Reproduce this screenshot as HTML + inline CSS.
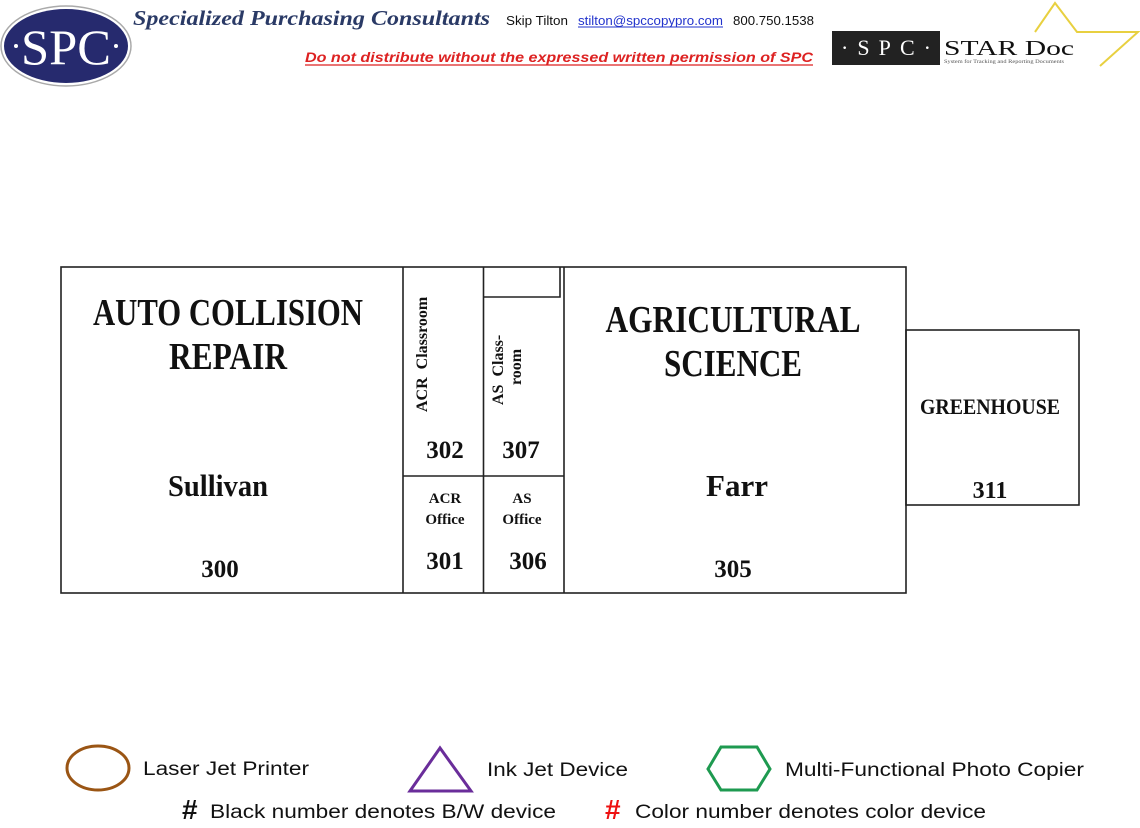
<!DOCTYPE html>
<html><head><meta charset="utf-8"><style>
html,body{margin:0;padding:0;background:#fff;}
svg{display:block;}
.s{font-family:"Liberation Serif",serif;font-weight:bold;fill:#111;}
.a{font-family:"Liberation Sans",sans-serif;}
</style></head><body>
<svg width="1140" height="828" viewBox="0 0 1140 828" xmlns="http://www.w3.org/2000/svg">
<ellipse cx="66" cy="46" rx="65" ry="40" fill="#fff" stroke="#aaa" stroke-width="1.5"/>
<ellipse cx="66" cy="46" rx="62" ry="37" fill="#262a6e"/>
<text x="66" y="64" text-anchor="middle" font-family="Liberation Serif,serif" font-size="50" fill="#fff" textLength="90" lengthAdjust="spacingAndGlyphs">SPC</text>
<circle cx="16" cy="46" r="2" fill="#fff"/><circle cx="116" cy="46" r="2" fill="#fff"/>
<text x="133" y="25" font-family="Liberation Serif,serif" font-style="italic" font-weight="bold" font-size="21" fill="#2a3a66" textLength="357" lengthAdjust="spacingAndGlyphs">Specialized Purchasing Consultants</text>
<text x="506" y="25" class="a" font-size="13" fill="#111" textLength="62" lengthAdjust="spacingAndGlyphs">Skip Tilton</text>
<text x="578" y="25" class="a" font-size="13" fill="#2233cc" textLength="145" lengthAdjust="spacingAndGlyphs">stilton@spccopypro.com</text>
<line x1="578" y1="27" x2="723" y2="27" stroke="#2233cc" stroke-width="1"/>
<text x="733" y="25" class="a" font-size="13" fill="#111" textLength="81" lengthAdjust="spacingAndGlyphs">800.750.1538</text>
<text x="305" y="62" class="a" font-size="14" font-weight="bold" font-style="italic" fill="#d22" textLength="508" lengthAdjust="spacingAndGlyphs">Do not distribute without the expressed written permission of SPC</text>
<line x1="305" y1="65" x2="813" y2="65" stroke="#d22" stroke-width="1.2"/>
<polyline points="1035,32 1055,3 1077,32 1138,32 1100,66" fill="none" stroke="#e8d040" stroke-width="2"/>
<rect x="832" y="31" width="108" height="34" fill="#222"/>
<text x="886" y="55" text-anchor="middle" font-family="Liberation Serif,serif" font-size="22" fill="#fff" textLength="90" lengthAdjust="spacing">·SPC·</text>
<text x="944" y="55" font-family="Liberation Serif,serif" font-size="21" fill="#111" textLength="130" lengthAdjust="spacingAndGlyphs">STAR Doc</text>
<text x="944" y="63" font-family="Liberation Serif,serif" font-size="5" fill="#555" textLength="120" lengthAdjust="spacingAndGlyphs">System for Tracking and Reporting Documents</text>
<g fill="none" stroke="#222" stroke-width="1.6">
<rect x="61" y="267" width="845" height="326"/>
<line x1="403" y1="267" x2="403" y2="593"/>
<line x1="483.5" y1="267" x2="483.5" y2="593"/>
<line x1="564" y1="267" x2="564" y2="593"/>
<line x1="403" y1="476" x2="564" y2="476"/>
<polyline points="484,297 560,297 560,267"/>
<rect x="906" y="330" width="173" height="175"/>
</g>
<text x="228" y="325" text-anchor="middle" class="s" font-size="38" textLength="270" lengthAdjust="spacingAndGlyphs">AUTO COLLISION</text>
<text x="228" y="369" text-anchor="middle" class="s" font-size="38" textLength="118" lengthAdjust="spacingAndGlyphs">REPAIR</text>
<text x="218" y="496" text-anchor="middle" class="s" font-size="31" textLength="100" lengthAdjust="spacingAndGlyphs">Sullivan</text>
<text x="220" y="577" text-anchor="middle" class="s" font-size="25">300</text>
<text x="733" y="332" text-anchor="middle" class="s" font-size="38" textLength="255" lengthAdjust="spacingAndGlyphs">AGRICULTURAL</text>
<text x="733" y="376" text-anchor="middle" class="s" font-size="38" textLength="138" lengthAdjust="spacingAndGlyphs">SCIENCE</text>
<text x="737" y="496" text-anchor="middle" class="s" font-size="31">Farr</text>
<text x="733" y="577" text-anchor="middle" class="s" font-size="25">305</text>
<text x="990" y="414" text-anchor="middle" class="s" font-size="22" textLength="140" lengthAdjust="spacingAndGlyphs">GREENHOUSE</text>
<text x="990" y="498" text-anchor="middle" class="s" font-size="24">311</text>
<text x="445" y="458" text-anchor="middle" class="s" font-size="25">302</text>
<text x="521" y="458" text-anchor="middle" class="s" font-size="25">307</text>
<text transform="translate(427,412) rotate(-90)" class="s" font-size="16" xml:space="preserve">ACR  Classroom</text>
<text transform="translate(503,405) rotate(-90)" class="s" font-size="16" xml:space="preserve">AS  Class-</text>
<text transform="translate(521,385) rotate(-90)" class="s" font-size="16">room</text>
<text x="445" y="503" text-anchor="middle" class="s" font-size="15">ACR</text>
<text x="445" y="524" text-anchor="middle" class="s" font-size="15">Office</text>
<text x="522" y="503" text-anchor="middle" class="s" font-size="15">AS</text>
<text x="522" y="524" text-anchor="middle" class="s" font-size="15">Office</text>
<text x="445" y="569" text-anchor="middle" class="s" font-size="25">301</text>
<text x="528" y="569" text-anchor="middle" class="s" font-size="25">306</text>
<ellipse cx="98" cy="768" rx="31" ry="22" fill="none" stroke="#9a5514" stroke-width="3"/>
<text x="143" y="775" class="a" font-size="19" fill="#111" textLength="166" lengthAdjust="spacingAndGlyphs">Laser Jet Printer</text>
<polygon points="440,748 410,791 471,791" fill="none" stroke="#6a2d9a" stroke-width="3"/>
<text x="487" y="776" class="a" font-size="19" fill="#111" textLength="141" lengthAdjust="spacingAndGlyphs">Ink Jet Device</text>
<polygon points="721,747 757,747 770,769 757,790 721,790 708,769" fill="none" stroke="#1e9a50" stroke-width="3"/>
<text x="785" y="776" class="a" font-size="19" fill="#111" textLength="299" lengthAdjust="spacingAndGlyphs">Multi-Functional Photo Copier</text>
<text x="182" y="819" class="a" font-size="28" font-weight="bold" fill="#111">#</text>
<text x="210" y="818" class="a" font-size="19" fill="#111" textLength="346" lengthAdjust="spacingAndGlyphs">Black number denotes B/W device</text>
<text x="605" y="819" class="a" font-size="28" font-weight="bold" fill="#e11">#</text>
<text x="635" y="818" class="a" font-size="19" fill="#111" textLength="351" lengthAdjust="spacingAndGlyphs">Color number denotes color device</text>
</svg>
</body></html>
